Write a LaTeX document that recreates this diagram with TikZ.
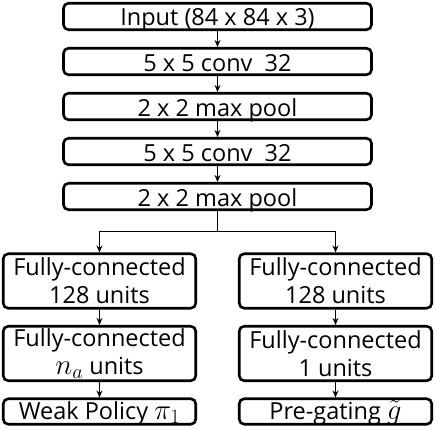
\RequirePackage{fix-cm}
\documentclass[tikz,border=0pt]{standalone}
\usepackage{fontspec}
\setmainfont{Open Sans}
\usetikzlibrary{arrows.meta}
% math symbols are set larger than the label text
\newcommand{\mlabel}[1]{{\fontsize{29}{28}\selectfont$#1$}}
\tikzset{
  layer/.style={draw, line width=2.6pt, rounded corners=5pt, align=center, inner sep=0pt,
                font=\fontsize{23.5}{28}\selectfont},
  trunk/.style={layer, minimum width=308pt, minimum height=26.5pt, text height=19pt, text depth=0pt},
  headtwo/.style={layer, minimum width=192.5pt, minimum height=54.5pt},
  headone/.style={layer, minimum width=192.5pt, minimum height=25.5pt, text height=15pt, text depth=0pt},
  flow/.style={-{Stealth[length=7pt,width=6pt]}, line width=1pt}
}
\begin{document}
\begin{tikzpicture}[x=1pt,y=-1pt]
  \useasboundingbox (0,0) rectangle (436,428);

  % shared trunk
  \node[trunk] (input) at (217.5,16.5) {Input (84 x 84 x 3)};
  \node[trunk] (conv1) at (217.5,61.5) {5 x 5 conv\ \ 32};
  \node[trunk] (pool1) at (217.5,106.5) {2 x 2 max pool};
  \node[trunk] (conv2) at (217.5,151.5) {5 x 5 conv\ \ 32};
  \node[trunk] (pool2) at (217.5,196.5) {2 x 2 max pool};

  % left head
  \node[headtwo] (fcla) at (99.5,281) {Fully-connected\\128 units};
  \node[headtwo] (fclb) at (99.5,353.5) {Fully-connected\\\mlabel{n_a} units};
  \node[headone] (policy) at (99.5,411.5) {Weak Policy \mlabel{\pi_1}};

  % right head
  \node[headtwo] (fcra) at (335.5,281) {Fully-connected\\128 units};
  \node[headtwo] (fcrb) at (335.5,353.5) {Fully-connected\\1 units};
  \node[headone] (gate) at (335.5,411.5) {Pre-gating \mlabel{\tilde{g}}};

  % arrows
  \draw[flow] (input) -- (conv1);
  \draw[flow] (conv1) -- (pool1);
  \draw[flow] (pool1) -- (conv2);
  \draw[flow] (conv2) -- (pool2);

  \coordinate (split) at (217.5,231);
  \draw[line width=1pt] (pool2) -- (split);
  \draw[flow] (split) -| (fcla);
  \draw[flow] (split) -| (fcra);

  \draw[flow] (fcla) -- (fclb);
  \draw[flow] (fclb) -- (policy);
  \draw[flow] (fcra) -- (fcrb);
  \draw[flow] (fcrb) -- (gate);
\end{tikzpicture}
\end{document}
